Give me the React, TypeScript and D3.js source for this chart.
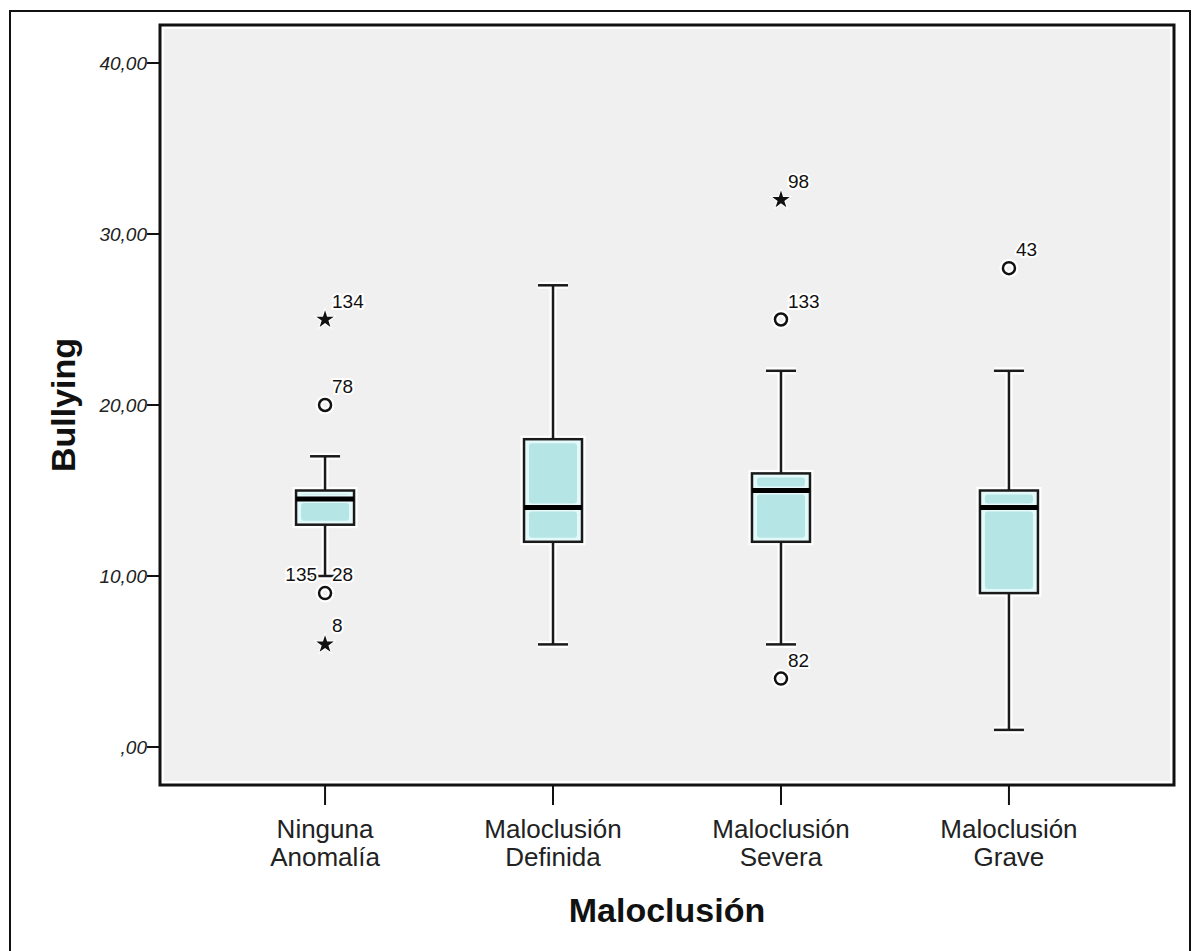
import React from "react";
import * as d3 from "d3";

// categories (two-line tick labels)
const categories = ["Ninguna Anomalía", "Maloclusión Definida", "Maloclusión Severa", "Maloclusión Grave"];
const catLines = [["Ninguna", "Anomalía"], ["Maloclusión", "Definida"], ["Maloclusión", "Severa"], ["Maloclusión", "Grave"]];

// box statistics
const whiskerLow = [10, 6, 6, 1];
const q1 = [13, 12, 12, 9];
const median = [14.5, 14, 15, 14];
const q3 = [15, 18, 16, 15];
const whiskerHigh = [17, 27, 22, 22];

// outliers: category index, value, case id, marker kind, label side
const outCat = [0, 0, 0, 0, 2, 2, 2, 3];
const outValue = [25, 20, 9, 6, 32, 25, 4, 28];
const outKind = ["star", "circle", "circle", "star", "star", "circle", "circle", "circle"];
const outLabelRight = ["134", "78", "28", "8", "98", "133", "82", "43"];
const outLabelLeft = ["", "", "135", "", "", "", "", ""];

const yTicks = [0, 10, 20, 30, 40];

const W = 1195;
const H = 951;
const plot = { left: 160, top: 25, right: 1174, bottom: 785 };

const fmt = (v: number) => (v === 0 ? ",00" : v.toFixed(2).replace(".", ","));

export default function App() {
  const y = d3.scaleLinear().domain([0, 40]).range([747, 63]);
  const x = d3.scalePoint<string>().domain(categories).range([plot.left, plot.right]).padding(0.724);

  const boxW = 58;
  const capW = 30;
  const star = d3.symbol().type(d3.symbolStar).size(95)();
  const halo = "#ffffff";

  return (
    <svg width={W} height={H} style={{ display: "block", position: "absolute", left: 0, top: 0 }}>
      <rect x={0} y={0} width={W} height={H} fill="#fff" />
      {/* outer frame */}
      <rect x={10} y={11} width={1180} height={960} fill="none" stroke="#111" strokeWidth={2} />

      {/* plot area */}
      <rect x={plot.left} y={plot.top} width={plot.right - plot.left} height={plot.bottom - plot.top}
        fill="#fff" stroke="#111" strokeWidth={3} />
      <rect x={plot.left + 4} y={plot.top + 4} width={plot.right - plot.left - 8} height={plot.bottom - plot.top - 8}
        fill="#f0f0f0" />

      {/* y axis ticks */}
      {yTicks.map((t) => (
        <g key={t}>
          <line x1={plot.left - 13} x2={plot.left} y1={y(t)} y2={y(t)} stroke="#111" strokeWidth={2} />
          <text x={plot.left - 13} y={y(t)} dy="0.35em" textAnchor="end" fontStyle="italic"
            fontFamily="Liberation Sans, Arial, sans-serif" fontSize={19} fill="#222">
            {fmt(t)}
          </text>
        </g>
      ))}

      {/* x axis ticks */}
      {categories.map((c, i) => (
        <g key={c}>
          <line x1={x(c)} x2={x(c)} y1={plot.bottom} y2={plot.bottom + 20} stroke="#111" strokeWidth={2} />
          <text x={x(c)} y={838} textAnchor="middle" fontFamily="Liberation Sans, Arial, sans-serif"
            fontSize={26} fill="#222">
            <tspan x={x(c)}>{catLines[i][0]}</tspan>
            <tspan x={x(c)} dy={28}>{catLines[i][1]}</tspan>
          </text>
        </g>
      ))}

      {/* boxes */}
      {categories.map((c, i) => {
        const cx = x(c) as number;
        const yHi = y(whiskerHigh[i]);
        const yLo = y(whiskerLow[i]);
        const yQ3 = y(q3[i]);
        const yQ1 = y(q1[i]);
        const yMed = y(median[i]);
        return (
          <g key={c}>
            {/* halos */}
            <g stroke={halo} strokeWidth={7} fill="none">
              <line x1={cx} x2={cx} y1={yHi} y2={yQ3} />
              <line x1={cx} x2={cx} y1={yQ1} y2={yLo} />
              <line x1={cx - capW / 2} x2={cx + capW / 2} y1={yHi} y2={yHi} />
              <line x1={cx - capW / 2} x2={cx + capW / 2} y1={yLo} y2={yLo} />
              <rect x={cx - boxW / 2} y={yQ3} width={boxW} height={yQ1 - yQ3} />
            </g>
            <g stroke="#1a1a1a" strokeWidth={2.5}>
              <line x1={cx} x2={cx} y1={yHi} y2={yQ3} />
              <line x1={cx} x2={cx} y1={yQ1} y2={yLo} />
              <line x1={cx - capW / 2} x2={cx + capW / 2} y1={yHi} y2={yHi} />
              <line x1={cx - capW / 2} x2={cx + capW / 2} y1={yLo} y2={yLo} />
            </g>
            <rect x={cx - boxW / 2} y={yQ3} width={boxW} height={yQ1 - yQ3} fill="#e4f9f9" stroke="#1a1a1a" strokeWidth={2.5} />
            <rect x={cx - boxW / 2 + 5} y={yQ3 + 4} width={boxW - 10} height={Math.max(0, yMed - yQ3 - 8)} rx={3} fill="#b5e5e5" />
            <rect x={cx - boxW / 2 + 5} y={yMed + 4} width={boxW - 10} height={Math.max(0, yQ1 - yMed - 8)} rx={3} fill="#b5e5e5" />
            <line x1={cx - boxW / 2} x2={cx + boxW / 2} y1={yMed} y2={yMed} stroke="#000" strokeWidth={5} />
          </g>
        );
      })}

      {/* outliers */}
      {outValue.map((v, k) => {
        const cx = x(categories[outCat[k]]) as number;
        const cy = y(v);
        return (
          <g key={k}>
            {outKind[k] === "star" ? (
              <path d={star as string} transform={`translate(${cx},${cy})`} fill="#111" stroke={halo} strokeWidth={2} paintOrder="stroke" />
            ) : (
              <>
                <circle cx={cx} cy={cy} r={6} fill="none" stroke={halo} strokeWidth={7} />
                <circle cx={cx} cy={cy} r={6} fill="none" stroke="#111" strokeWidth={2.5} />
              </>
            )}
            <text x={cx + 7} y={cy - 12} fontFamily="Liberation Sans, Arial, sans-serif" fontSize={19} fill="#111"
              stroke={halo} strokeWidth={4} paintOrder="stroke">
              {outLabelRight[k]}
            </text>
            {outLabelLeft[k] && (
              <text x={cx - 8} y={cy - 12} textAnchor="end" fontFamily="Liberation Sans, Arial, sans-serif" fontSize={19}
                fill="#111" stroke={halo} strokeWidth={4} paintOrder="stroke">
                {outLabelLeft[k]}
              </text>
            )}
          </g>
        );
      })}

      {/* axis titles */}
      <text transform="translate(75,405) rotate(-90)" textAnchor="middle" fontFamily="Liberation Sans, Arial, sans-serif"
        fontWeight="bold" fontSize={34} fill="#111">
        Bullying
      </text>
      <text x={667} y={922} textAnchor="middle" fontFamily="Liberation Sans, Arial, sans-serif" fontWeight="bold"
        fontSize={34} fill="#111">
        Maloclusión
      </text>
    </svg>
  );
}
